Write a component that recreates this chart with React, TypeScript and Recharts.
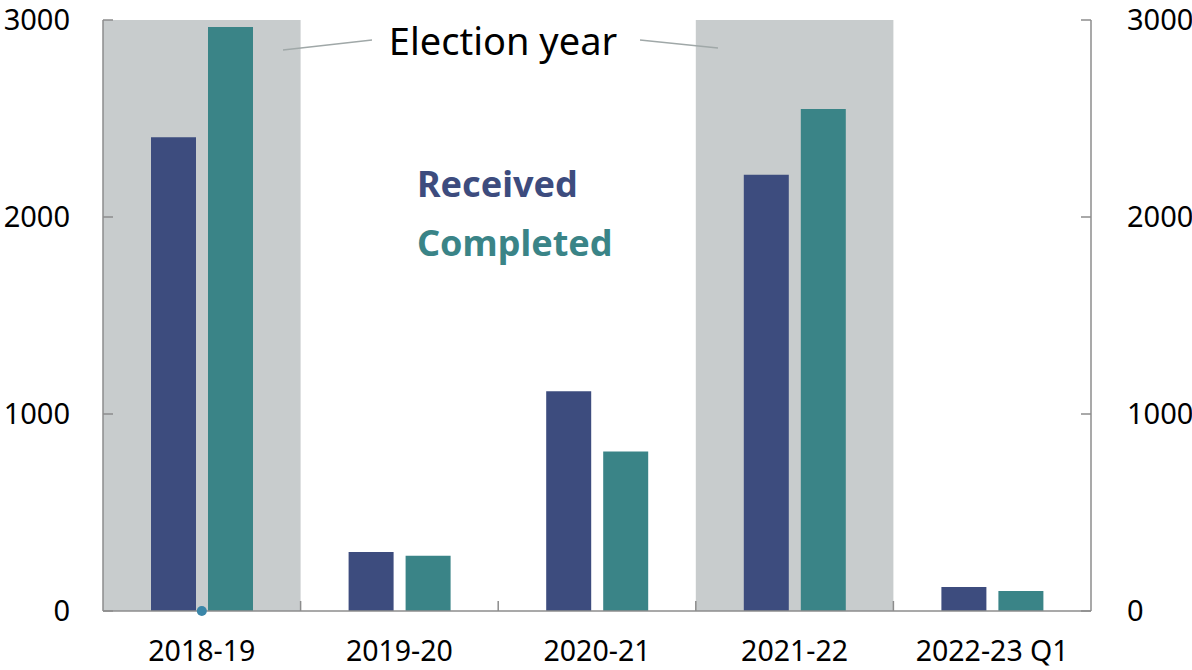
import React from 'react';
import {
  ComposedChart,
  Bar,
  Line,
  XAxis,
  YAxis,
  ReferenceArea,
} from 'recharts';

const categories = ['2018-19', '2019-20', '2020-21', '2021-22', '2022-23 Q1'];
const received = [2405, 300, 1115, 2215, 122];
const completed = [2965, 280, 810, 2548, 101];
const markerValues = [0, null, null, null, null];
const electionYears = ['2018-19', '2021-22'];
const yTicks = [0, 1000, 2000, 3000];

const data = categories.map((name, i) => ({
  name,
  received: received[i],
  completed: completed[i],
  marker: markerValues[i],
}));

const W = 1192;
const H = 670;
const LEFT = 103;
const RIGHT = 101;
const TOP = 20;
const XH = 59;
const HALF_BAND = (W - LEFT - RIGHT) / categories.length / 2;

const FONT = '"Noto Sans", sans-serif';
const AXIS = '#8c8c8c';
const RECEIVED = '#3d4c7e';
const COMPLETED = '#3a8487';
const SHADE = '#c8cccd';

const XTick = (props: any) => {
  const { x, y, payload, index } = props;
  return (
    <g>
      {index < categories.length - 1 && (
        <line x1={x + HALF_BAND} x2={x + HALF_BAND} y1={y} y2={y - 10} stroke={AXIS} strokeWidth={1.5} />
      )}
      <text x={x} y={y + 50} textAnchor="middle" fontSize={28.5} fontFamily={FONT} fill="#000">
        {payload.value}
      </text>
    </g>
  );
};

export default function App() {
  return (
    <div style={{ position: 'absolute', left: 0, top: 0, width: W, height: H, background: '#fff' }}>
      <ComposedChart
        width={W}
        height={H}
        data={data}
        margin={{ top: TOP, right: 0, left: 0, bottom: 0 }}
        barSize={45}
        barGap={12}
      >
        <XAxis
          dataKey="name"
          xAxisId="x"
          height={XH}
          tickLine={false}
          tickSize={0}
          tickMargin={0}
          interval={0}
          tick={<XTick />}
          axisLine={{ stroke: AXIS, strokeWidth: 1.5 }}
        />
        <YAxis
          yAxisId="left"
          orientation="left"
          width={LEFT}
          domain={[0, 3000]}
          ticks={yTicks}
          tickSize={-10}
          tickMargin={43}
          axisLine={{ stroke: AXIS, strokeWidth: 1.5 }}
          tickLine={{ stroke: AXIS, strokeWidth: 1.5 }}
          tick={{ fontSize: 29, fontFamily: FONT, fill: '#000' }}
        />
        <YAxis
          yAxisId="right"
          orientation="right"
          width={RIGHT}
          domain={[0, 3000]}
          ticks={yTicks}
          tickSize={-10}
          tickMargin={46}
          axisLine={{ stroke: AXIS, strokeWidth: 1.5 }}
          tickLine={{ stroke: AXIS, strokeWidth: 1.5 }}
          tick={{ fontSize: 29, fontFamily: FONT, fill: '#000' }}
        />
        {electionYears.map((yr) => (
          <ReferenceArea
            key={yr}
            xAxisId="x"
            yAxisId="left"
            x1={yr}
            x2={yr}
            y1={0}
            y2={3000}
            fill={SHADE}
            fillOpacity={1}
            stroke="none"
          />
        ))}
        <Bar dataKey="received" xAxisId="x" yAxisId="left" fill={RECEIVED} isAnimationActive={false} />
        <Bar dataKey="completed" xAxisId="x" yAxisId="left" fill={COMPLETED} isAnimationActive={false} />
        <Line
          dataKey="marker"
          xAxisId="x"
          yAxisId="right"
          stroke="none"
          dot={{ r: 5, fill: '#3a86a8', stroke: 'none' }}
          activeDot={false}
          isAnimationActive={false}
        />
      </ComposedChart>
      <svg
        width={W}
        height={H}
        style={{ position: 'absolute', left: 0, top: 0, pointerEvents: 'none' }}
      >
        <line x1={283} y1={50} x2={372} y2={40} stroke="#a0a8a8" strokeWidth={1.5} />
        <line x1={640} y1={40} x2={718} y2={48} stroke="#a0a8a8" strokeWidth={1.5} />
        <text x={503} y={55} textAnchor="middle" fontSize={38} fontFamily={FONT} fill="#000">
          Election year
        </text>
        <text x={417} y={197} fontSize={36} fontWeight="bold" fontFamily={FONT} fill={RECEIVED}>
          Received
        </text>
        <text x={417} y={256} fontSize={36} fontWeight="bold" fontFamily={FONT} fill={COMPLETED}>
          Completed
        </text>
      </svg>
    </div>
  );
}
